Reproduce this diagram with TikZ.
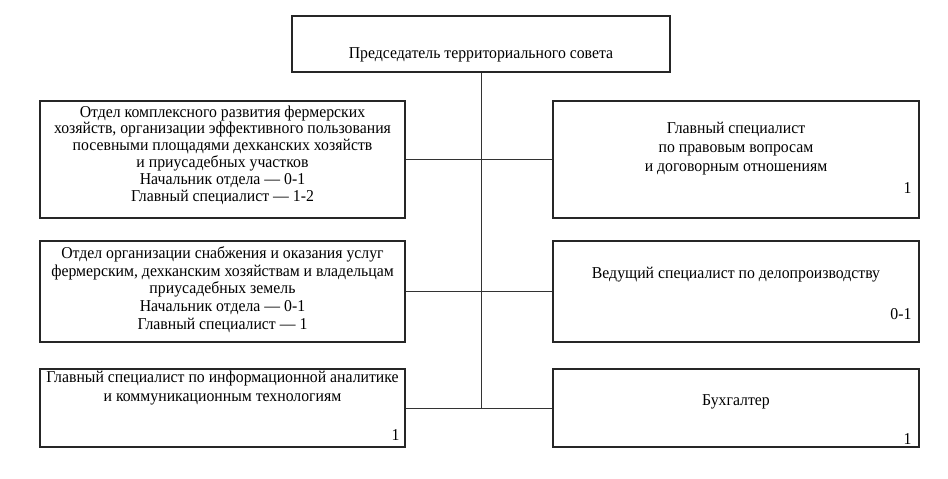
\documentclass[tikz,border=0pt]{standalone}
\usepackage{fontspec}
\setmainfont[FakeStretch=0.95]{Liberation Serif}
\usetikzlibrary{positioning}
\usetikzlibrary{calc}

\tikzset{
  unit/.style={draw=black!85, line width=1.3pt, rectangle, inner sep=0pt},
  caption/.style={align=center, inner sep=0pt, font=\fontsize{16.6}{17}\selectfont},
  staff/.style={anchor=east, inner sep=0pt, font=\fontsize{16.6}{17}\selectfont},
  link/.style={draw=black!80, line width=0.9pt}
}

\begin{document}
\begin{tikzpicture}[x=1pt, y=-1pt]

  \useasboundingbox (0, 0) rectangle (948, 479);

  % boxes
  \node at (481, 44) (chair) [unit, minimum width=378pt, minimum height=56pt] {};
  \node at (222.5, 159.5) (farms) [unit, minimum width=365pt, minimum height=117pt] {};
  \node at (736, 159.5) (legal) [unit, minimum width=366pt, minimum height=117pt] {};
  \node at (222.5, 291.5) (supply) [unit, minimum width=365pt, minimum height=101pt] {};
  \node at (736, 291.5) (office) [unit, minimum width=366pt, minimum height=101pt] {};
  \node at (222.5, 408) (ict) [unit, minimum width=365pt, minimum height=78pt] {};
  \node at (736, 408) (account) [unit, minimum width=366pt, minimum height=78pt] {};

  % texts
  \node at ($ (chair.center) + (0, 11) $) (chairtext) [caption] {Председатель территориального совета};
  \node at ($ (farms.center) + (0, -4.5) $) (farmstext) [caption, font=\fontsize{16.6}{16.8}\selectfont] {Отдел комплексного развития фермерских\\
    хозяйств, организации эффективного пользования\\
    посевными площадями дехканских хозяйств\\
    и приусадебных участков\\
    Начальник отдела — 0-1\\
    Главный специалист — 1-2};
  \node at ($ (legal.center) + (0, -10.5) $) (legaltext) [caption, font=\fontsize{16.6}{19}\selectfont] {Главный специалист\\
    по правовым вопросам\\
    и договорным отношениям};
  \node at ($ (supply.center) + (0, -2) $) (supplytext) [caption, font=\fontsize{16.6}{17.7}\selectfont] {Отдел организации снабжения и оказания услуг\\
    фермерским, дехканским хозяйствам и владельцам\\
    приусадебных земель\\
    Начальник отдела — 0-1\\
    Главный специалист — 1};
  \node at ($ (office.center) + (0, -16.5) $) (officetext) [caption] {Ведущий специалист по делопроизводству};
  \node at ($ (ict.center) + (0, -19.5) $) (icttext) [caption, font=\fontsize{16.6}{19}\selectfont] {Главный специалист по информационной аналитике\\
    и коммуникационным технологиям};
  \node at ($ (account.center) + (0, -6) $) (accounttext) [caption] {Бухгалтер};

  % staff numbers
  \node at ([xshift=-8pt, yshift=31pt] legal.south east) (legalnum) [staff] {1};
  \node at ([xshift=-8pt, yshift=29pt] office.south east) (officenum) [staff] {0-1};
  \node at ([xshift=-6pt, yshift=13pt] ict.south east) (ictnum) [staff] {1};
  \node at ([xshift=-8pt, yshift=9pt] account.south east) (accountnum) [staff] {1};

  % connectors
  \path [link] (chair.south) -- (chair.south |- ict.east);
  \path [link] (farms.east) -- (legal.west);
  \path [link] (supply.east) -- (office.west);
  \path [link] (ict.east) -- (account.west);

\end{tikzpicture}
\end{document}
